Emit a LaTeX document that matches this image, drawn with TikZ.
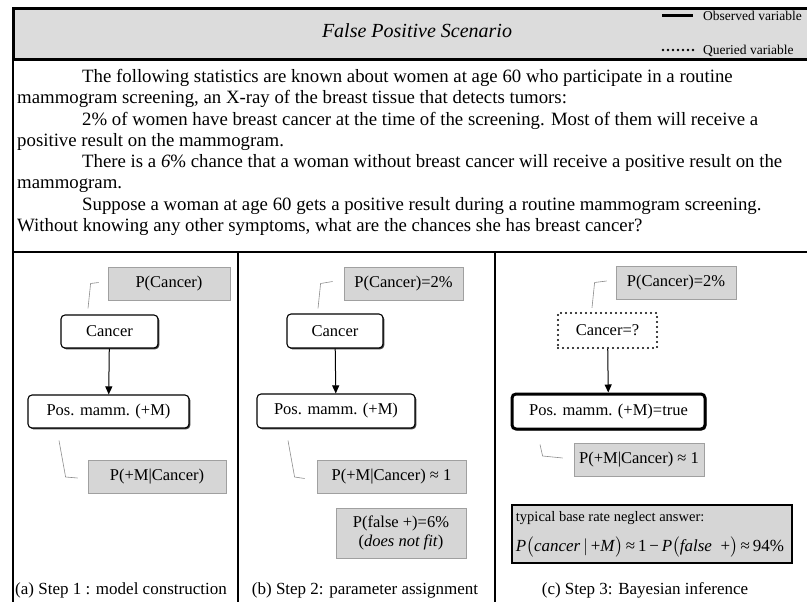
\documentclass[tikz,border=0pt]{standalone}
\usepackage{graphicx}
\usepackage{fontspec}
\setmainfont{Liberation Serif}
\usetikzlibrary{arrows.meta,shadows,calc}
\definecolor{boxgray}{RGB}{214,214,214}
\definecolor{boxedge}{RGB}{160,160,160}
\definecolor{hdrgray}{RGB}{220,220,220}
\definecolor{callgray}{RGB}{140,140,140}
\newcommand{\fsz}[1]{\fontsize{#1}{#1}\selectfont}
\begin{document}
\begin{tikzpicture}[x=1pt,y=-1pt,
  bodyline/.style={anchor=west, inner sep=0pt, font=\fsz{18.8}, text height=13pt, text depth=4pt},
  varbox/.style={draw=black, line width=1.1pt, rounded corners=4pt, fill=white,
     drop shadow={shadow xshift=1.3pt, shadow yshift=-1.3pt, fill=black!75, opacity=1},
     inner sep=0pt, font=\fsz{16.5}},
  parbox/.style={draw=boxedge, line width=0.8pt, fill=boxgray, inner sep=0pt, font=\fsz{16.5}},
  callout/.style={draw=callgray, line width=0.6pt},
  link/.style={draw=black, line width=1pt, -{Triangle[length=8pt,width=7pt]}},
  caption/.style={inner sep=0pt, font=\fsz{17}},
  legendtxt/.style={anchor=west, inner sep=0pt, font=\fsz{13.5}}
]
\useasboundingbox (0,0) rectangle (807,602);
\clip (0,0) rectangle (807,602);
\fill[white] (0,0) rectangle (807,602);

% header
\draw[line width=3pt, fill=hdrgray] (13,9) rectangle (830,60);
\node[inner sep=0pt, font=\fsz{20}\itshape] (title) at (417,31) {False Positive Scenario};
\coordinate (lo1) at (662,16); \coordinate (lo2) at (693,16);
\draw[line width=3pt] (lo1) -- (lo2);
\node[legendtxt] (obs) at (703,16) {Observed variable};
\coordinate (lq1) at (663,50); \coordinate (lq2) at (693,50);
\draw[line width=2.6pt, line cap=round, dash pattern=on 0pt off 5pt] (lq1) -- (lq2);
\node[legendtxt] (que) at (703,51) {Queried variable};

% frame lines
\draw[line width=1.5pt] (13,60) -- (13,602);
\draw[line width=1.5pt] (13,252) -- (807,252);
\draw[line width=1.5pt] (238,252) -- (238,602);
\draw[line width=1.5pt] (495,252) -- (495,602);

% body text
\node[bodyline] (t1) at (82,78) {The following statistics are known about women at age 60 who participate in a routine};
\node[bodyline] (t2) at (17,99.3) {mammogram screening, an X-ray of the breast tissue that detects tumors:};
\node[bodyline] (t3) at (82,120.6) {2\% of women have breast cancer at the time of the screening. Most of them will receive a};
\node[bodyline] (t4) at (17,141.9) {positive result on the mammogram.};
\node[bodyline] (t5) at (82,163.2) {There is a \textit{6}\% chance that a woman without breast cancer will receive a positive result on the};
\node[bodyline] (t6) at (17,184.5) {mammogram.};
\node[bodyline] (t7) at (82,205.8) {Suppose a woman at age 60 gets a positive result during a routine mammogram screening.};
\node[bodyline] (t8) at (17,227) {Without knowing any other symptoms, what are the chances she has breast cancer?};

% panel a
\node[parbox, minimum width=122pt, minimum height=33pt] (pca) at (169,283.5) {P(Cancer)};
\node[varbox, minimum width=97pt, minimum height=33pt] (ca) at (109.5,331.5) {Cancer};
\node[varbox, minimum width=161pt, minimum height=33pt] (pma) at (108.5,411.5) {Pos. mamm. (+M)};
\node[parbox, minimum width=138pt, minimum height=33pt] (pmca) at (157,476.5) {P(+M|Cancer)};
\draw[link] (ca) -- (pma);
\draw[callout] ($(ca.north)+(-21.5,-6)$) -- ($(pca.west)+(-17,0)$) -- ($(pca.west)+(-9,-1)$);
\draw[callout] ($(pma.south)+(-49.5,12)$) -- ($(pmca.west)+(-22,0.5)$) -- ($(pmca.west)+(-10,1.5)$);
\node[caption] (capa) at (121,590) {(a) Step 1 : model construction};

% panel b
\node[parbox, minimum width=119pt, minimum height=33pt] (pcb) at (403.5,283.5) {P(Cancer)=2\%};
\node[varbox, minimum width=96pt, minimum height=34pt] (cb) at (335,331) {Cancer};
\node[varbox, minimum width=158pt, minimum height=34pt] (pmb) at (336,411) {Pos. mamm. (+M)};
\node[parbox, minimum width=149pt, minimum height=33pt] (pmcb) at (391.5,476.5) {P(+M|Cancer) ≈ 1};
\node[parbox, minimum width=130pt, minimum height=50pt, align=center] (pfb) at (401,533) {P(false +)=6\%\\[3pt](\textit{does not fit})};
\draw[link] (cb) -- (pmb);
\draw[callout] ($(cb.north)+(-17,-5)$) -- ($(pcb.west)+(-23,0)$) -- ($(pcb.west)+(-11,-2)$);
\draw[callout] ($(pmb.south)+(-48,12)$) -- ($(pmcb.west)+(-22,0.5)$) -- ($(pmcb.west)+(-12,2)$);
\node[caption] (capb) at (365,590) {(b) Step 2: parameter assignment};

% panel c
\node[parbox, minimum width=120pt, minimum height=33pt] (pcc) at (676,282.5) {P(Cancer)=2\%};
\node[draw=black, line width=2.4pt, line cap=round, dash pattern=on 0pt off 5pt, fill=white,
      minimum width=99pt, minimum height=35pt, inner sep=0pt, font=\fsz{16.5}] (cc) at (607.5,330.5) {Cancer=?};
\node[varbox, line width=3pt, minimum width=193pt, minimum height=35pt] (pmc) at (608.5,411.5) {Pos. mamm. (+M)=true};
\node[parbox, minimum width=130pt, minimum height=33pt] (pmcc) at (639,459.5) {P(+M|Cancer) ≈ 1};
\node[draw=black, line width=2.5pt, fill=boxgray, minimum width=280pt, minimum height=58pt,
      inner sep=0pt] (typ) at (652,534) {};
\node[anchor=west, inner sep=0pt, font=\fsz{14.5}] (typ1) at ($(typ.west)+(5,-16)$) {typical base rate neglect answer:};
\node[anchor=west, inner sep=0pt] (typ2) at ($(typ.west)+(5,13)$)
  {\resizebox{268pt}{!}{\textit{P}$\bigl($\textit{cancer}\,$|$\,+\textit{M}$\bigr)$\,≈\,1\,−\,\textit{P}$\bigl($\textit{false}\ \ +$\bigr)$\,≈\,94\%}};
\draw[link] (cc) -- (pmc);
\draw[callout] ($(cc.north)+(-15.5,-4)$) -- ($(pcc.west)+(-21,0)$) -- ($(pcc.west)+(-9,-1.5)$);
\draw[callout] ($(pmc.south)+(-68.5,14)$) -- ($(pmcc.west)+(-31,-3.5)$) -- ($(pmcc.west)+(-11,-1.5)$);
\node[caption] (capc) at (645,590) {(c) Step 3: Bayesian inference};
\end{tikzpicture}
\end{document}
